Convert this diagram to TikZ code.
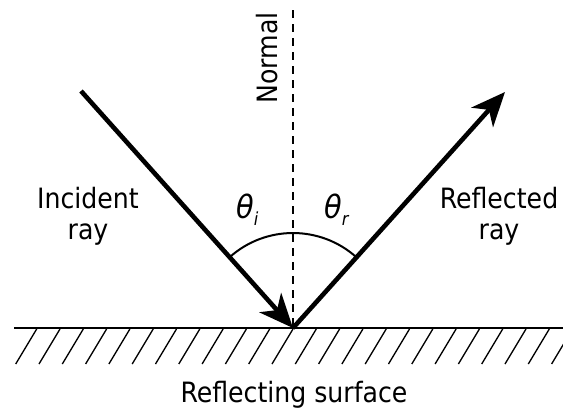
\documentclass[tikz,border=0pt]{standalone}
\usepackage{fontspec}
\setmainfont{DejaVu Sans Condensed}
\usetikzlibrary{arrows.meta,calc}
\tikzset{
  ray/.style={line width=4.6pt, -{Stealth[length=34pt,width=29pt,inset=10pt]}},
  hatch/.style={line width=1.3pt},
  lbl/.style={font=\fontsize{28}{31}\selectfont, align=center, inner sep=0pt},
  thl/.style={font=\fontsize{32}{34}\selectfont\itshape, inner sep=0pt, anchor=base},
}
\begin{document}
\begin{tikzpicture}[x=1pt,y=-1pt]
\useasboundingbox (0,0) rectangle (563,408);
\clip (0,0) rectangle (563,408);
\coordinate (O) at (293,328);
\coordinate (A) at (81,91);
\coordinate (B) at (505,92);
\coordinate (N) at (293,10);
\coordinate (L) at (14,328);
\coordinate (R) at (563,328);
% normal
\draw[line width=1.2pt, dash pattern=on 8pt off 6pt] (N) -- (O);
% hatches
\foreach \k in {-11,...,12} {
  \draw[hatch] ({293+23.3*\k},329) -- ++(-21,35);
}
% surface
\draw[line width=2.8pt] (L) -- (R);
% arc
\draw[line width=2pt] ($(O)+(228.2:95)$) arc[start angle=228.2, end angle=311.8, radius=95];
% rays
\draw[ray] (A) -- (O);
\draw[ray] (O) -- (B);
% labels
\node[lbl] (inc) at (88,216) {Incident\\ray};
\node[lbl] (refl) at (499,216) {Reflected\\ray};
\node[lbl, rotate=90, anchor=base] (nor) at (277,58) {Normal};
\node[lbl, anchor=base] (surf) at (294,402) {Reflecting surface};
\node[thl, anchor=base west] (ti) at (236,218) {θ\raisebox{-7pt}{\fontsize{18}{20}\selectfont i}};
\node[thl, anchor=base west] (tr) at (324,218) {θ\raisebox{-7pt}{\fontsize{18}{20}\selectfont r}};
\end{tikzpicture}
\end{document}
